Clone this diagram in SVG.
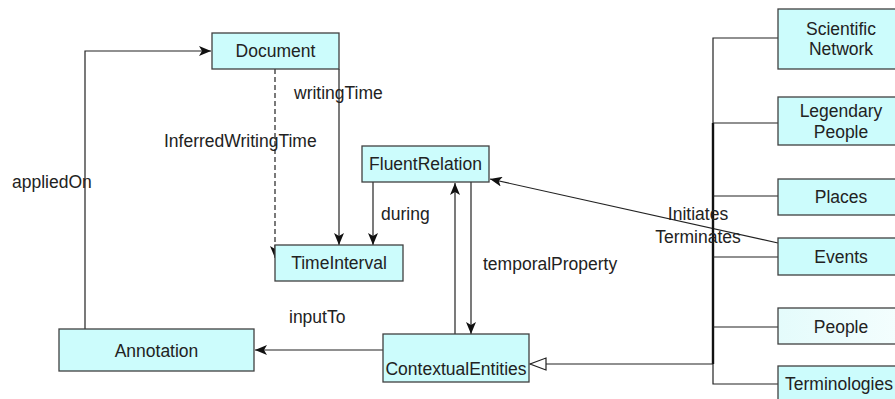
<svg xmlns="http://www.w3.org/2000/svg" width="895" height="399" viewBox="0 0 895 399">
<defs>
<style>
.box{fill:#ccfcfc;stroke:#404040;stroke-width:1.3}
.t{font-family:"Liberation Sans",Arial,sans-serif;font-size:17.5px;fill:#222}
.c{text-anchor:middle}
.ln{fill:none;stroke:#222;stroke-width:1.2}
</style>
<marker id="ar" viewBox="0 0 12 10" refX="12" refY="5" markerWidth="12" markerHeight="10" markerUnits="userSpaceOnUse" orient="auto">
<path d="M0,0 L12,5 L0,10 L3,5 z" fill="#111"/>
</marker>
<marker id="tri" viewBox="0 0 18 14" refX="17" refY="7" markerWidth="18" markerHeight="14" markerUnits="userSpaceOnUse" orient="auto">
<path d="M1,1 L17,7 L1,13 z" fill="#fff" stroke="#222" stroke-width="1.2"/>
</marker>
<linearGradient id="pg" x1="0" y1="0" x2="1" y2="0">
<stop offset="0" stop-color="#e4fbfb"/>
<stop offset="1" stop-color="#f4fefe"/>
</linearGradient>
</defs>
<rect width="895" height="399" fill="#fff"/>
<g id="connectors">
<path class="ln" d="M85,329 V51 H211" marker-end="url(#ar)"/>
<path class="ln" d="M275,69 V258" stroke-dasharray="5,3" marker-end="url(#ar)"/>
<path class="ln" d="M339,69 V245" marker-end="url(#ar)"/>
<path class="ln" d="M373,182 V245" marker-end="url(#ar)"/>
<path class="ln" d="M455,334 V183" marker-end="url(#ar)"/>
<path class="ln" d="M471,182 V334" marker-end="url(#ar)"/>
<path class="ln" d="M383,350 H255" marker-end="url(#ar)"/>
<path class="ln" d="M778,243 L490,179" marker-end="url(#ar)"/>
<path class="ln" d="M778,38 H713 V384 H778"/>
<path d="M713,123 V364" stroke="#111" stroke-width="2.4" fill="none"/>
<path class="ln" d="M713,123 H778 M713,196 H778 M713,257 H778 M713,327 H778"/>
<path class="ln" d="M713,364 H530" marker-end="url(#tri)"/>
<text class="t" x="294" y="99">writingTime</text>
<text class="t" x="164" y="147">InferredWritingTime</text>
<text class="t" x="12" y="188">appliedOn</text>
<text class="t" x="381" y="220">during</text>
<text class="t" x="289" y="323">inputTo</text>
<text class="t" x="483" y="270">temporalProperty</text>
<text class="t c" x="698" y="220">Initiates</text>
<text class="t c" x="698" y="243">Terminates</text>
</g>
<g id="Document"><rect class="box" x="212" y="33" width="127" height="36"/><text class="t c" x="275.5" y="57">Document</text></g>
<g id="FluentRelation"><rect class="box" x="362" y="146" width="127" height="36"/><text class="t c" x="425.5" y="170">FluentRelation</text></g>
<g id="TimeInterval"><rect class="box" x="275" y="245" width="128" height="36"/><text class="t c" x="339" y="269">TimeInterval</text></g>
<g id="Annotation"><rect class="box" x="59" y="329" width="195" height="42"/><text class="t c" x="156.5" y="357">Annotation</text></g>
<g id="ContextualEntities"><rect class="box" x="383" y="334" width="146" height="48"/><text class="t c" x="456" y="375">ContextualEntities</text></g>
<g id="ScientificNetwork"><rect class="box" x="778" y="9" width="125" height="60"/><text class="t c" x="841" y="35">Scientific</text><text class="t c" x="841" y="55">Network</text></g>
<g id="LegendaryPeople"><rect class="box" x="778" y="97" width="125" height="48"/><text class="t c" x="841" y="117">Legendary</text><text class="t c" x="841" y="138">People</text></g>
<g id="Places"><rect class="box" x="778" y="179" width="125" height="36"/><text class="t c" x="841" y="203">Places</text></g>
<g id="Events"><rect class="box" x="778" y="238" width="125" height="37"/><text class="t c" x="841" y="263">Events</text></g>
<g id="People"><rect class="box" x="778" y="308" width="125" height="36" style="fill:url(#pg)"/><text class="t c" x="841" y="333">People</text></g>
<g id="Terminologies"><rect class="box" x="778" y="366" width="125" height="40"/><text class="t" x="785" y="390">Terminologies</text></g>
</svg>
